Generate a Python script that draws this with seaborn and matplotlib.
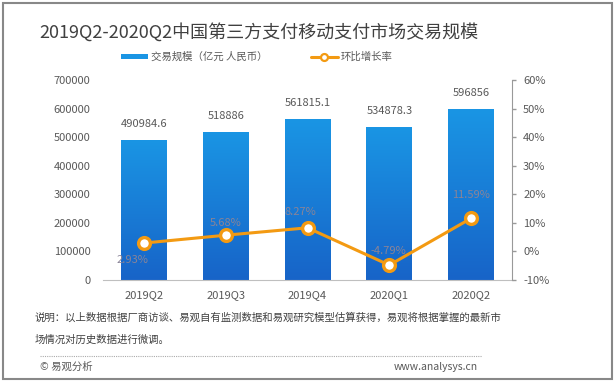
import numpy as np
import pandas as pd
import seaborn as sns
import matplotlib.pyplot as plt
from matplotlib.colors import LinearSegmentedColormap
from matplotlib.lines import Line2D
from matplotlib.patches import Patch, Rectangle

#data
quarters = ['2019Q2', '2019Q3', '2019Q4', '2020Q1', '2020Q2']
volume = [490984.6, 518886, 561815.1, 534878.3, 596856]
growth = [2.93, 5.68, 8.27, -4.79, 11.59]

title = '2019Q2-2020Q2中国第三方支付移动支付市场交易规模'
bar_name = '交易规模（亿元 人民币）'
line_name = '环比增长率'
note1 = '说明：以上数据根据厂商访谈、易观自有监测数据和易观研究模型估算获得，易观将根据掌握的最新市'
note2 = '场情况对历史数据进行微调。'

df = pd.DataFrame({'quarter': quarters, 'volume': volume, 'growth': growth})

sns.set_style('white')
plt.rcParams['font.family'] = ['Noto Sans CJK SC', 'DejaVu Sans']

blue_top = '#1a95e4'
blue_bot = '#1764c8'
orange = '#f39a12'
gray = '#595959'

fig = plt.figure(figsize=(6.16, 3.83), dpi=100)
ax = fig.add_axes([103/616, 1 - 280/383, 409/616, 200/383])

sns.barplot(data=df, x='quarter', y='volume', color=blue_top, width=0.56,
            saturation=1, ax=ax)

#gradient fill on the bars
cmap = LinearSegmentedColormap.from_list('bl', [blue_bot, blue_top])
grad = np.linspace(0, 1, 100).reshape(-1, 1)
for p in ax.patches:
    x0, w, h = p.get_x(), p.get_width(), p.get_height()
    im = ax.imshow(grad, extent=[x0, x0 + w, 0, h], origin='lower',
                   aspect='auto', cmap=cmap, zorder=2)
    im.set_clip_path(p)
    p.set_facecolor('none')
    p.set_edgecolor('none')

for i, v in enumerate(volume):
    ax.annotate(f'{v}', (i, v), xytext=(0, 8), textcoords='offset points',
                ha='center', va='bottom', fontsize=8, color=gray)

ax.set_xlim(-0.5, 4.5)
ax.set_ylim(0, 700000)
ax.set_yticks(range(0, 700001, 100000))
ax.set_yticklabels([f'{t}' for t in range(0, 700001, 100000)])
ax.set_xlabel('')
ax.set_ylabel('')
ax.tick_params(axis='y', length=0, pad=9, labelsize=8, labelcolor=gray)
ax.tick_params(axis='x', length=0, pad=7, labelsize=8, labelcolor=gray)
for s in ['left', 'top', 'right']:
    ax.spines[s].set_visible(False)
ax.spines['bottom'].set_color('#bfbfbf')

#growth line on right axis
ax2 = ax.twinx()
sns.pointplot(data=df, x='quarter', y='growth', color=orange, ax=ax2,
              markers='o', markersize=8.5, markerfacecolor='white',
              markeredgecolor=orange, markeredgewidth=2.4, linewidth=2.2)
ax2.set_xlim(-0.5, 4.5)
ax2.set_ylim(-10, 60)
ax2.set_yticks(range(-10, 61, 10))
ax2.set_yticklabels([f'{t}%' for t in range(-10, 61, 10)])
ax2.set_ylabel('')
ax2.set_xlabel('')
ax2.tick_params(axis='y', length=3, width=1, color='#999999', pad=5,
                labelsize=8, labelcolor=gray)
for s in ['left', 'top', 'bottom']:
    ax2.spines[s].set_visible(False)
ax2.spines['right'].set_visible(True)
ax2.spines['right'].set_color('#999999')

label_offsets = [(-8, -12), (0, 9), (-5, 11.5), (-1, 10), (0, 16.5)]
for i, (v, off) in enumerate(zip(growth, label_offsets)):
    ax2.annotate(f'{v:.2f}%', (i, v), xytext=off, textcoords='offset points',
                 ha='center', va='center', fontsize=8, color='#8a8497')

#title and legend
fig.text(259/616, 1 - 32/383, title, ha='center', va='center',
         fontsize=13, color='#404040')
handles = [Patch(facecolor=blue_top, edgecolor='none'),
           Line2D([], [], color=orange, lw=2.2, marker='o', markersize=5,
                  markerfacecolor='white', markeredgecolor=orange,
                  markeredgewidth=1.6)]
fig.legend(handles, [bar_name, line_name], loc='center',
           bbox_to_anchor=(257/616, 1 - 57/383), ncol=2, frameon=False,
           fontsize=7.5, handlelength=2.6, handleheight=0.45,
           handletextpad=0.3, columnspacing=4.1, labelcolor=gray)

#notes and footer
fig.text(35/616, 1 - 318/383, note1, ha='left', va='center', fontsize=7.5,
         color='#404040')
fig.text(35/616, 1 - 340/383, note2, ha='left', va='center', fontsize=7.5,
         color='#404040')
fig.add_artist(Line2D([40/616, 482/616], [1 - 356/383, 1 - 356/383],
                      color='#aaaaaa', lw=0.8, ls=(0, (1, 1))))
fig.text(40/616, 1 - 367/383, '© 易观分析', ha='left', va='center',
         fontsize=7.5, color=gray)
fig.text(478/616, 1 - 367/383, 'www.analysys.cn', ha='right', va='center',
         fontsize=7.5, color=gray)

#outer frame
fig.add_artist(Rectangle((3/616, 1 - 379/383), 609/616, 376/383,
                         fill=False, edgecolor='#888888', lw=1.5))

fig.savefig('out.png', dpi=100)
